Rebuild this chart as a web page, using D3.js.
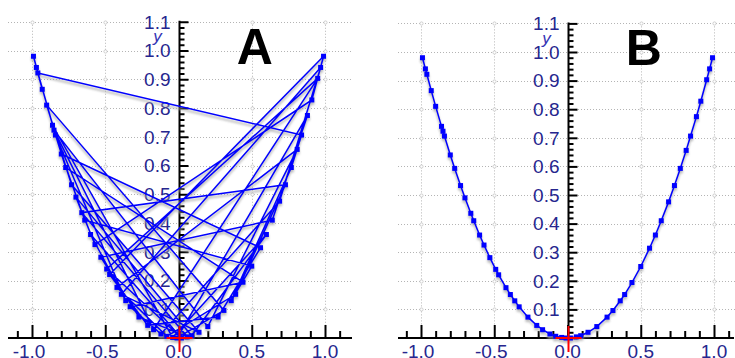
<!DOCTYPE html>
<html>
<head>
<meta charset="utf-8">
<script src="https://cdn.jsdelivr.net/npm/d3@7"></script>
<style>
  html, body { margin: 0; padding: 0; background: #fff; }
  svg { display: block; }
</style>
</head>
<body>
<svg id="chart" width="735" height="358"></svg>
<script>
// Sample points in the order they were collected (panel A joins them as-is)
const sampleX = [-0.99, -0.93, -0.96, 0.84, 0.77, 0.36, 0.50, -0.64, -0.80, 0.56,
  0.27, -0.21, -0.47, 0.99, 0.91, -0.57, -0.70, 0.09, 0.60, -0.04,
  -0.86, -0.77, 0.44, -0.33, -0.12, 0.69, 0.97, -0.39, 0.14, -0.73,
  -0.90, 0.31, -0.01, 0.88, 0.64, -0.53, -0.27, 0.06, -0.66, 0.73,
  0.39, -0.08, -0.42, 0.81, 0.20, -0.85, -0.17, 0.95, -0.49, 0.02,
  -0.60, -0.36, -0.84, -0.97];
const sampleY = [0.980, 0.865, 0.922, 0.706, 0.593, 0.130, 0.250, 0.410, 0.640, 0.314,
  0.073, 0.044, 0.221, 0.980, 0.828, 0.325, 0.490, 0.008, 0.360, 0.002,
  0.740, 0.593, 0.194, 0.109, 0.014, 0.476, 0.941, 0.152, 0.020, 0.533,
  0.810, 0.096, 0.000, 0.774, 0.410, 0.281, 0.073, 0.004, 0.436, 0.533,
  0.152, 0.006, 0.176, 0.656, 0.040, 0.723, 0.029, 0.903, 0.240, 0.000,
  0.360, 0.130, 0.706, 0.941];

const panelNames = ["A", "B"];
const xTickLabels = ["-1.0", "-0.5", "0.0", "0.5", "1.0"];
const yTickLabels = ["0.1", "0.2", "0.3", "0.4", "0.5", "0.6", "0.7", "0.8", "0.9", "1.0", "1.1"];
const xGridValues = [-1.0, -0.5, 0.5, 1.0];

const points = sampleX.map((x, i) => ({ x, y: sampleY[i] }));
const sortedPoints = points.slice().sort((a, b) => a.x - b.x);

const svg = d3.select("#chart");
const defs = svg.append("defs");
defs.append("filter").attr("id", "soft")
  .attr("x", "-10%").attr("y", "-10%").attr("width", "120%").attr("height", "120%")
  .append("feGaussianBlur").attr("stdDeviation", 1.1);

const labelColor = "#26268e";
const fontFamily = "Liberation Sans, Arial, sans-serif";

const panels = [
  { name: panelNames[0], data: points, origin: 178.5, top: 50.5, left: 8, right: 353 },
  { name: panelNames[1], data: sortedPoints, origin: 567.5, top: 52, left: 398, right: 735 }
];

panels.forEach(p => {
  const x = d3.scaleLinear().domain([-1, 1]).range([p.origin - 146.5, p.origin + 146.5]);
  const y = d3.scaleLinear().domain([0, 1]).range([338, p.top]);
  const g = svg.append("g");

  // dotted grid
  const grid = g.append("g").attr("stroke", "#b4b4b4").attr("stroke-width", 1)
    .attr("stroke-dasharray", "1,2").attr("fill", "none");
  yTickLabels.forEach(t => {
    const v = +t;
    grid.append("line").attr("x1", p.left).attr("x2", p.right)
      .attr("y1", Math.round(y(v)) + 0.5).attr("y2", Math.round(y(v)) + 0.5);
  });
  xGridValues.forEach(v => {
    grid.append("line").attr("x1", Math.round(x(v)) + 0.5).attr("x2", Math.round(x(v)) + 0.5)
      .attr("y1", y(1.1)).attr("y2", 338);
  });
  const knots = g.append("g").attr("stroke", "#c4c4c4").attr("fill", "#fff").attr("stroke-width", 0.8);
  xGridValues.forEach(xv => yTickLabels.forEach(t => {
    knots.append("circle").attr("cx", Math.round(x(xv)) + 0.5).attr("cy", Math.round(y(+t)) + 0.5).attr("r", 1.6);
  }));

  // panel letter
  g.append("text").attr("x", x(0.52)).attr("y", p.top + 13)
    .attr("text-anchor", "middle")
    .attr("font-family", fontFamily)
    .attr("font-weight", "bold").attr("font-size", 50).attr("fill", "#000")
    .text(p.name);

  // y tick labels and axis title
  const yl = g.append("g").attr("font-family", fontFamily)
    .attr("font-size", 19).attr("fill", labelColor).attr("text-anchor", "end");
  yTickLabels.forEach(t => {
    yl.append("text").attr("x", x(0) - 8).attr("y", y(+t)).attr("dy", "0.36em").text(t);
  });
  g.append("text").attr("x", x(0) - 21).attr("y", y(1.07) + 12)
    .attr("font-family", fontFamily).attr("font-style", "italic")
    .attr("font-size", 17).attr("fill", "#3434b4").attr("text-anchor", "middle").text("y");

  // x tick labels
  const xl = g.append("g").attr("font-family", fontFamily)
    .attr("font-size", 19).attr("fill", labelColor).attr("text-anchor", "middle");
  xTickLabels.forEach(t => {
    const v = +t;
    xl.append("text").attr("x", x(v) - (v < 0 ? 3 : 0)).attr("y", 358).text(t);
  });

  // axes
  const minorY = d3.range(1, 56).map(i => i * 0.02).filter(v => Math.abs(v * 10 - Math.round(v * 10)) > 1e-6);
  const majorY = d3.range(0, 12).map(i => i * 0.1);
  const yAxisMinor = d3.axisRight(y).tickValues(minorY).tickSize(5).tickFormat("").tickSizeOuter(0);
  const yAxisMajor = d3.axisRight(y).tickValues(majorY).tickSize(9).tickFormat("").tickSizeOuter(0);
  const ya = g.append("g").attr("transform", `translate(${Math.round(x(0)) + 0.5},0)`);
  ya.call(yAxisMinor);
  ya.append("g").call(yAxisMajor);
  ya.selectAll(".domain").remove();
  ya.selectAll("line").attr("stroke", "#000").attr("stroke-width", 2);
  ya.append("line").attr("x1", 0).attr("x2", 0).attr("y1", y(1.1) - 1).attr("y2", 338)
    .attr("stroke", "#000").attr("stroke-width", 2);

  const xMinorVals = d3.range(-11, 12).map(i => i / 10).filter(v => Math.abs(v * 2 - Math.round(v * 2)) > 1e-6);
  const xMajorVals = [-1.0, -0.5, 0.0, 0.5, 1.0];
  const xa = g.append("g").attr("transform", "translate(0,338)");
  xa.call(d3.axisTop(x).tickValues(xMinorVals).tickSize(7).tickFormat("").tickSizeOuter(0));
  xa.append("g").call(d3.axisTop(x).tickValues(xMajorVals).tickSize(13).tickFormat("").tickSizeOuter(0));
  xa.selectAll(".domain").remove();
  xa.selectAll("line").attr("stroke", "#000").attr("stroke-width", 2);
  xa.append("line").attr("x1", p.left).attr("x2", p.right - 1).attr("y1", 0).attr("y2", 0)
    .attr("stroke", "#000").attr("stroke-width", 2);

  // data: soft shadow, then line and square markers
  const line = d3.line().x(d => x(d.x)).y(d => y(d.y));
  const shadow = g.append("g").attr("transform", "translate(0,2.5)").attr("filter", "url(#soft)").attr("opacity", 0.75);
  shadow.append("path").datum(p.data).attr("d", line)
    .attr("fill", "none").attr("stroke", "#a8a8a8").attr("stroke-width", 2);
  shadow.selectAll("rect").data(p.data).join("rect")
    .attr("x", d => x(d.x) - 2.5).attr("y", d => y(d.y) - 2.5)
    .attr("width", 5).attr("height", 5).attr("fill", "#a8a8a8");

  g.append("path").datum(p.data).attr("d", line)
    .attr("fill", "none").attr("stroke", "#0000ff").attr("stroke-width", 1.5);
  g.append("g").selectAll("rect").data(p.data).join("rect")
    .attr("x", d => x(d.x) - 2.5).attr("y", d => y(d.y) - 2.5)
    .attr("width", 5).attr("height", 5).attr("fill", "#0000ff");

  // origin marker
  const cx = Math.round(x(0)) + 0.5, cy = Math.round(y(0));
  const cross = g.append("g").attr("stroke", "#ff0000").attr("stroke-width", 2);
  cross.append("line").attr("x1", cx - 13).attr("x2", cx + 13).attr("y1", cy).attr("y2", cy);
  cross.append("line").attr("x1", cx).attr("x2", cx).attr("y1", cy - 12).attr("y2", cy + 14);
});
</script>
</body>
</html>
